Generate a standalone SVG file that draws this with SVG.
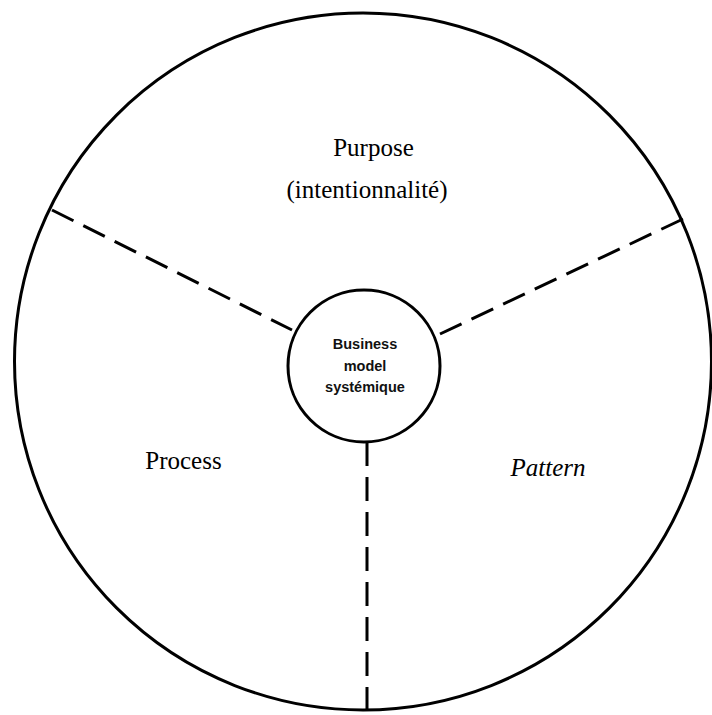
<svg xmlns="http://www.w3.org/2000/svg" width="712" height="715" viewBox="0 0 712 715">
<style>
.ring{fill:none;stroke:#000;stroke-width:3}
.dash{fill:none;stroke:#000;stroke-width:3;stroke-dasharray:24 11}
.lbl{font-family:"Liberation Serif","Times New Roman",serif;font-size:25px;fill:#000;text-anchor:middle}
.core{font-family:"Liberation Sans",Arial,sans-serif;font-weight:bold;font-size:14.5px;fill:#111;text-anchor:middle}
</style>
<rect width="712" height="715" fill="#fff"/>
<g id="outer">
<circle class="ring" cx="363" cy="361.5" r="348.5"/>
</g>
<g id="connectors">
<line class="dash" x1="52" y1="210" x2="292" y2="330"/>
<line class="dash" x1="683" y1="219" x2="440" y2="334"/>
<line class="dash" x1="367" y1="442" x2="367" y2="710"/>
</g>
<g id="center">
<circle cx="364" cy="366" r="76" fill="#fff" stroke="#000" stroke-width="3"/>
<text class="core" x="365" y="349">Business</text>
<text class="core" x="365" y="371">model</text>
<text class="core" x="365" y="392">systémique</text>
</g>
<g id="purpose">
<text class="lbl" x="373.5" y="156">Purpose</text>
<text class="lbl" x="367" y="198">(intentionnalité)</text>
</g>
<g id="process">
<text class="lbl" x="183.5" y="469">Process</text>
</g>
<g id="pattern">
<text class="lbl" x="548" y="476" font-style="italic">Pattern</text>
</g>
</svg>
